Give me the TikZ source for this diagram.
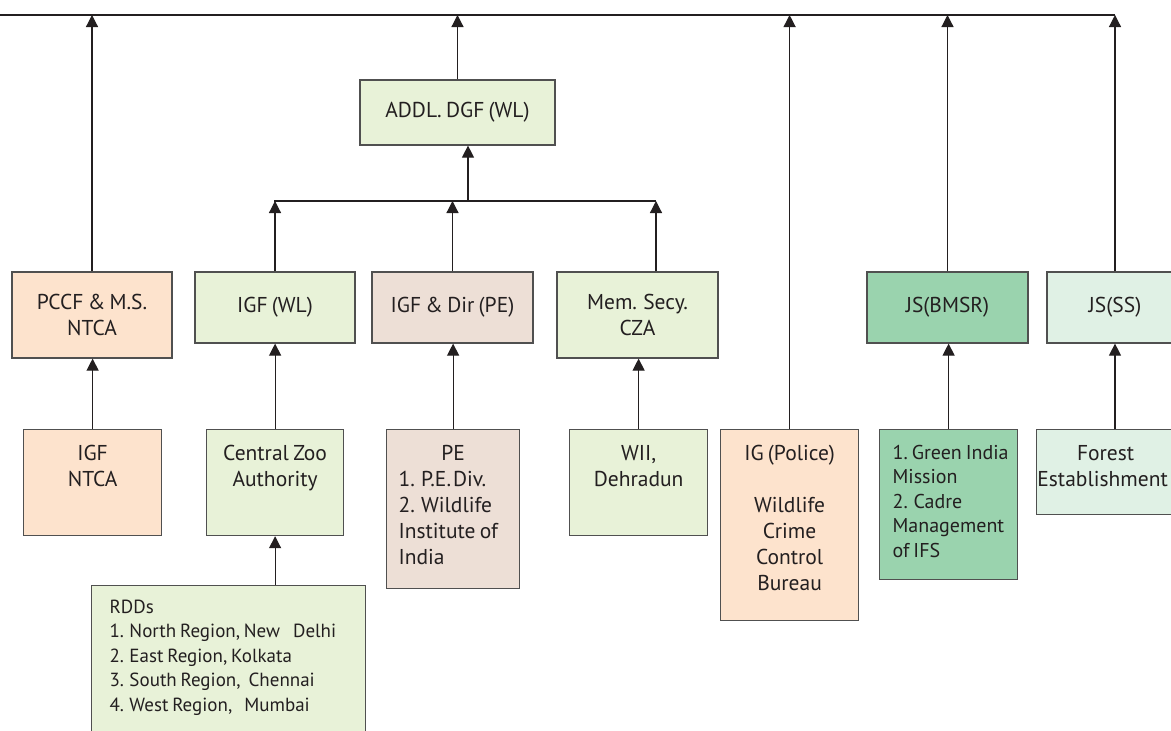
\documentclass[tikz,border=0pt]{standalone}
\usepackage{fontspec}
\setmainfont{PT Sans}
\usetikzlibrary{arrows.meta}
\definecolor{peach}{RGB}{253,227,205}
\definecolor{lgreen}{RGB}{232,242,216}
\definecolor{beige}{RGB}{237,223,214}
\definecolor{mgreen}{RGB}{154,211,174}
\definecolor{pgreen}{RGB}{224,241,229}
\definecolor{ink}{RGB}{35,31,32}
\definecolor{edgecol}{RGB}{80,80,80}
\newcommand{\tb}[4]{\parbox[c][#2][t]{#1}{\hyphenpenalty=10000\relax\vspace*{#3}#4}}
\newcommand{\boxfont}[2]{\fontsize{#1}{#2}\selectfont\spaceskip=0.2em plus 0.1em\relax}
\begin{document}
\begin{tikzpicture}[x=1pt,y=-1pt,
  box/.style={draw=edgecol, line width=1.2pt, inner sep=0pt, text=ink, font=\boxfont{21.5}{26}},
  cbox/.style={box, align=center},
  tbox/.style={box, anchor=north west},
  link/.style={draw=ink, line width=1.2pt},
  uparrow/.style={link, -{Triangle[length=12pt,width=12pt]}}]
\useasboundingbox (0,0) rectangle (1171,731);

% level 1 / 2 boxes
\node[cbox, fill=lgreen, minimum width=195pt, minimum height=65pt] (addl) at (457.5,112.5) {ADDL. DGF (WL)};
\node[cbox, fill=peach, minimum width=160pt, minimum height=86pt] (pccf) at (92,315) {PCCF \& M.S.\\NTCA};
\node[cbox, fill=lgreen, minimum width=160pt, minimum height=71pt] (igfwl) at (275,307.5) {IGF (WL)};
\node[cbox, fill=beige, minimum width=161pt, minimum height=71pt] (igfdir) at (452.5,307.5) {IGF \& Dir (PE)};
\node[cbox, fill=lgreen, minimum width=161pt, minimum height=86pt] (mem) at (637.5,315) {Mem. Secy.\\CZA};
\node[cbox, fill=mgreen, minimum width=161pt, minimum height=71pt] (jsb) at (947.5,307.5) {JS(BMSR)};
\node[cbox, fill=pgreen, minimum width=136pt, minimum height=71pt] (jss) at (1115,307.5) {JS(SS)};

% level 3 boxes
\node[tbox, fill=peach] (ntca) at (23,429) {\tb{138pt}{106pt}{12.8pt}{\centering\strut IGF\\NTCA}};
\node[tbox, fill=lgreen] (cza) at (206,429) {\tb{137pt}{106pt}{12.8pt}{\centering\strut Central Zoo\\Authority}};
\node[tbox, fill=lgreen, font=\boxfont{19}{24.4}] (rdd) at (91,585) {\tb{274pt}{160pt}{10.9pt}{\leftskip=18pt\relax\strut RDDs\\1. North Region, New\hspace{13pt}Delhi\\2. East Region, Kolkata\\3. South Region,\hspace{8pt}Chennai\\4. West Region,\hspace{12pt}Mumbai}};
\node[tbox, fill=beige] (pe) at (386,429) {\tb{133pt}{159pt}{12.8pt}{{\centering\strut PE\par}\leftskip=12pt\relax 1. P.E.\hspace{2pt}Div.\\2. Wildlife\\Institute of\\India}};
\node[tbox, fill=lgreen] (wii) at (569,429) {\tb{138pt}{106pt}{12.8pt}{\centering\strut WII,\\Dehradun}};
\node[tbox, fill=peach] (igp) at (720,429) {\tb{138pt}{191pt}{12.8pt}{\centering\strut IG (Police)\\[26pt]Wildlife\\Crime\\Control\\Bureau}};
\node[tbox, fill=mgreen, font=\boxfont{20}{24.4}] (green) at (879,429) {\tb{138pt}{150pt}{12.9pt}{\leftskip=13pt\relax\rightskip=0pt plus 1fil\relax\strut 1.~Green~India\\Mission\\2. Cadre\\Management\\of IFS}};
\node[tbox, fill=pgreen] (forest) at (1036,429) {\tb{138pt}{85pt}{12.8pt}{\centering\strut Forest\\\hspace*{-6pt}Establishment}};

% bus coordinates
\coordinate (topL) at (0,15);
\coordinate (topR) at (1115,15);
\coordinate (barL) at (274,201);
\coordinate (barM) at (468,201);
\coordinate (barR) at (656,201);

% top bus
\draw[link] (topL) -- (topR);
\draw[uparrow] (pccf.north) -- (pccf.north |- topL);
\draw[uparrow] (addl.north) -- (addl.north |- topL);
\draw[uparrow] (igp.north) -- (igp.north |- topL);
\draw[uparrow] (jsb.north) -- (jsb.north |- topL);
\draw[uparrow] (jss.north) -- (topR);

% middle bus
\draw[link] (barL) -- (barR);
\draw[uparrow] (barM) -- (barM |- addl.south);
\draw[uparrow] (igfwl.north) -- (igfwl.north |- barL);
\draw[uparrow] (igfdir.north) -- (igfdir.north |- barL);
\draw[uparrow] (mem.north -| barR) -- (barR);

% lower links
\draw[uparrow] (ntca.north) -- (ntca.north |- pccf.south);
\draw[uparrow] (cza.north) -- (cza.north |- igfwl.south);
\draw[uparrow] (cza.south |- rdd.north) -- (cza.south);
\draw[uparrow] (pe.north) -- (pe.north |- igfdir.south);
\draw[uparrow] (wii.north) -- (wii.north |- mem.south);
\draw[uparrow] (green.north) -- (green.north |- jsb.south);
\draw[uparrow] (jss.south |- forest.north) -- (jss.south);
\end{tikzpicture}
\end{document}
